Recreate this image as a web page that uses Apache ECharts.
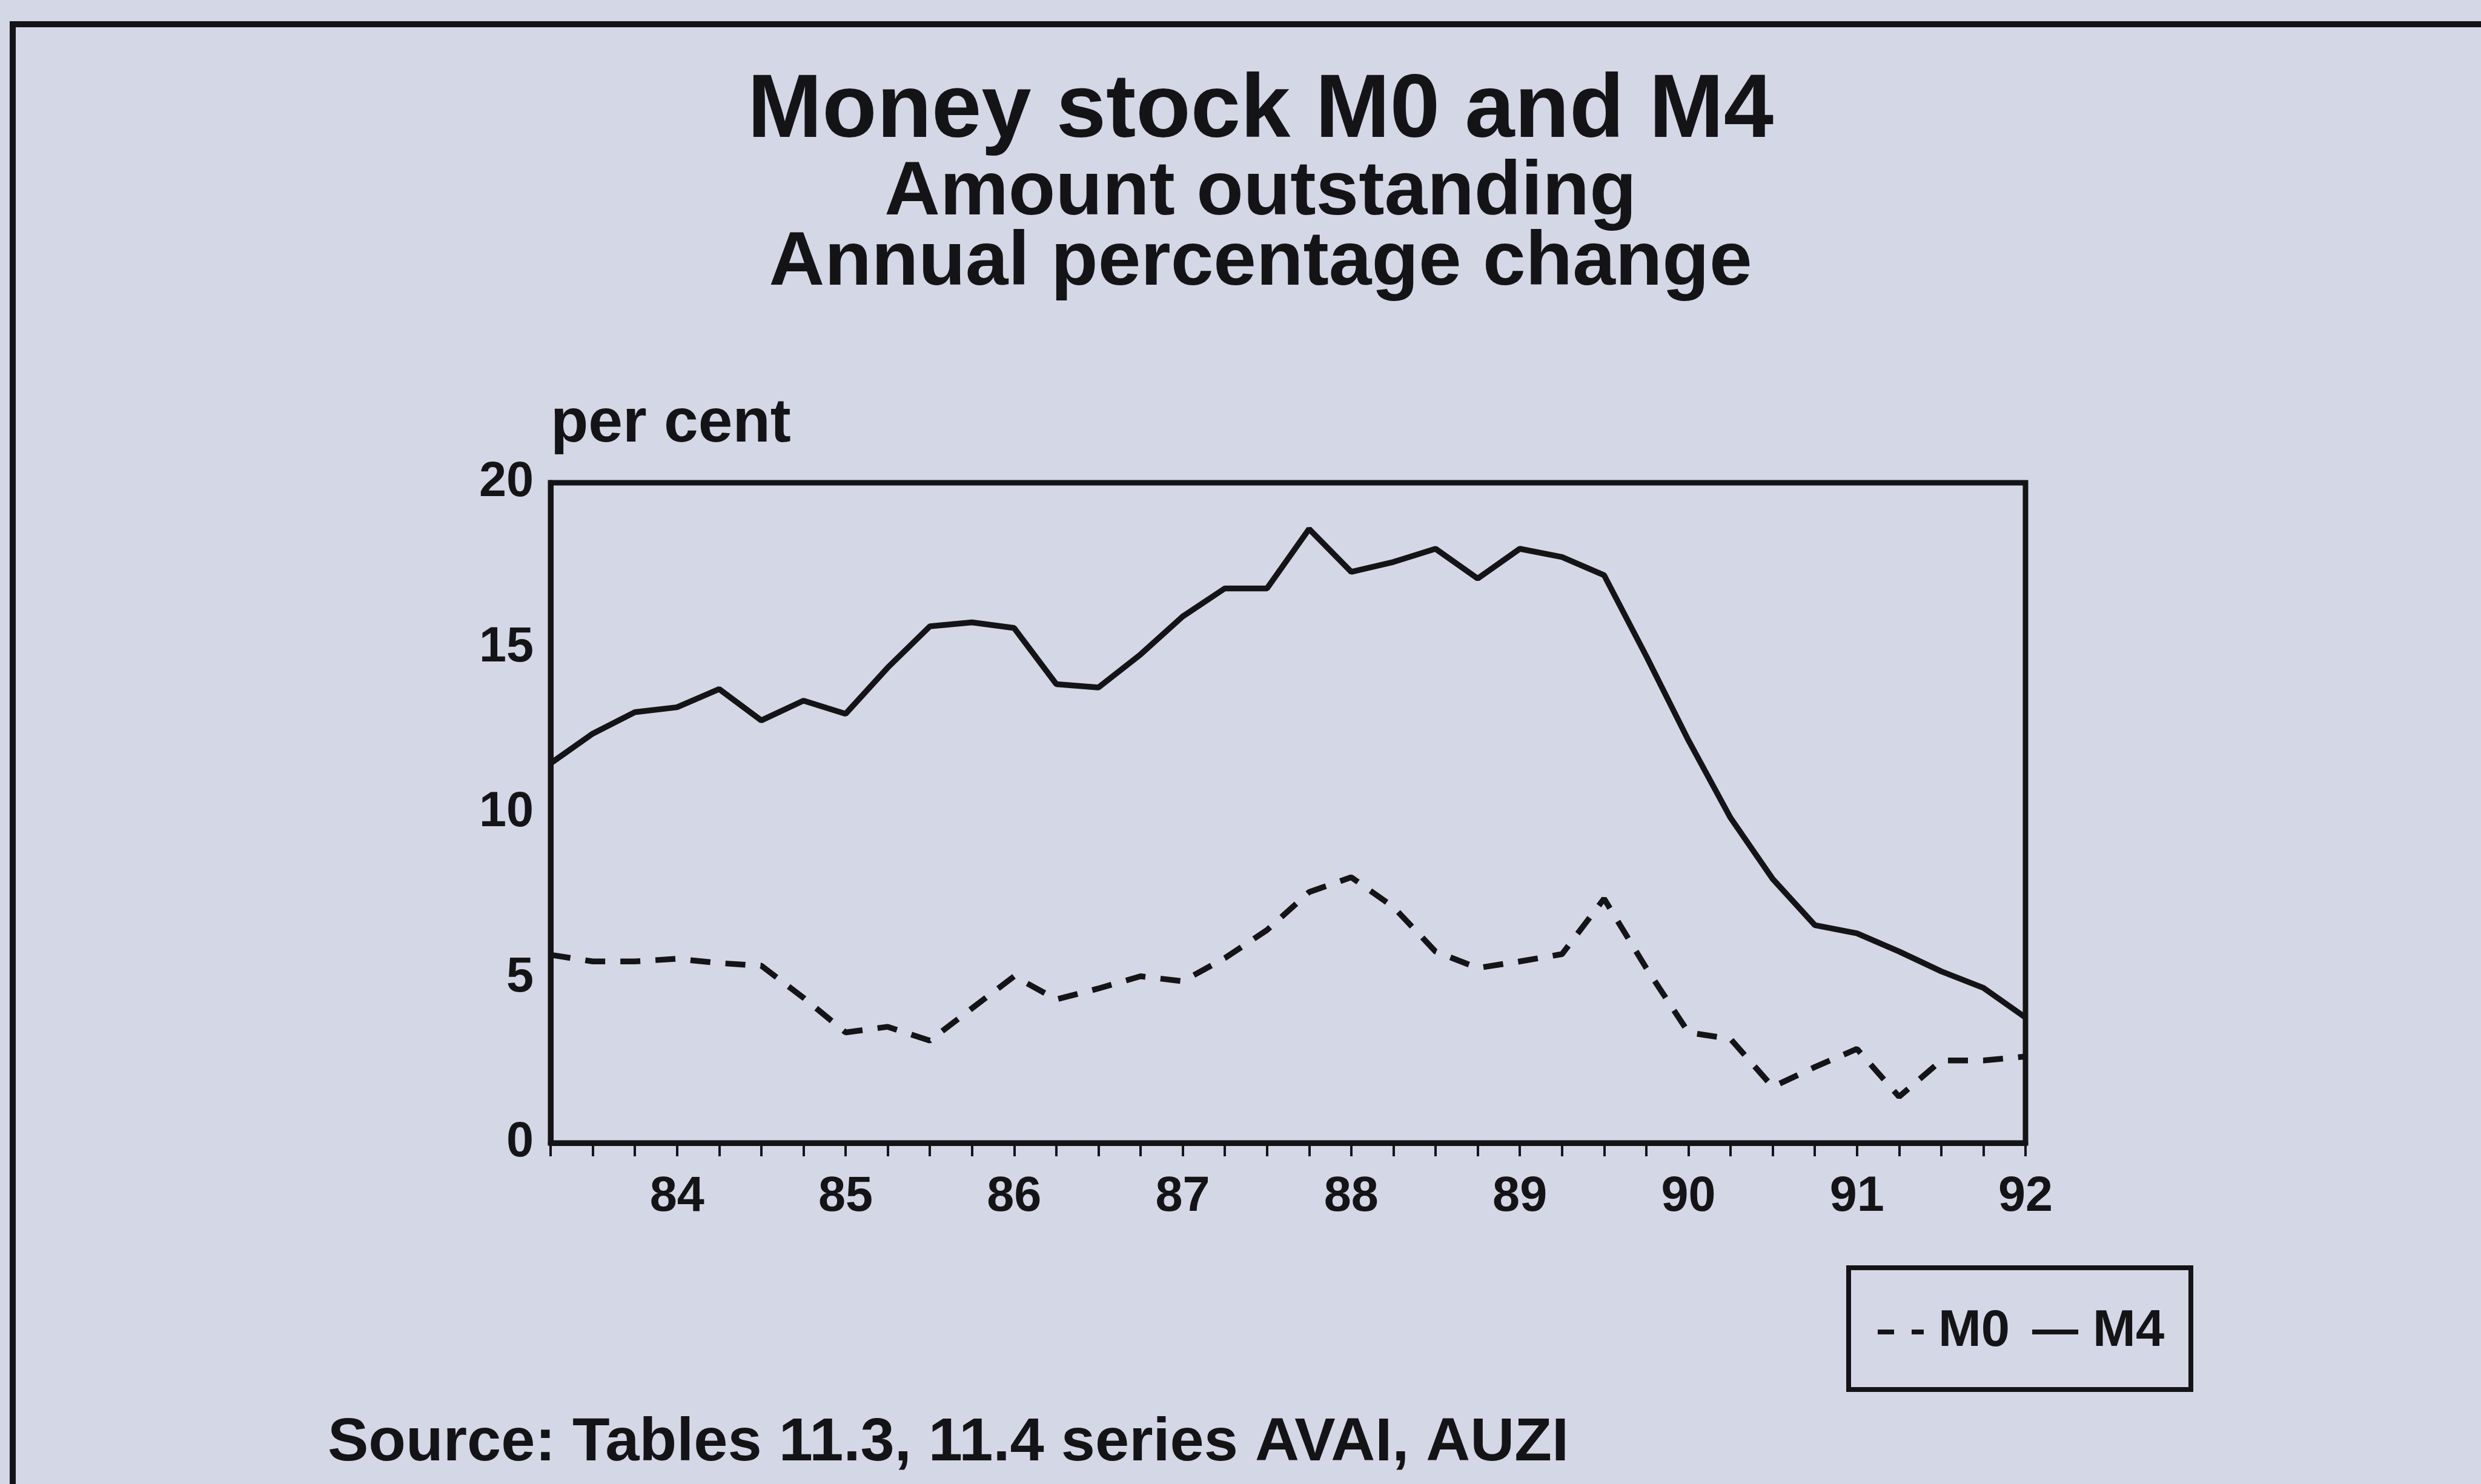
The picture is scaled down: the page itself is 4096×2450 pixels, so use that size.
<!DOCTYPE html>
<html>
<head>
<meta charset="utf-8">
<script src="https://cdn.jsdelivr.net/npm/echarts@6/dist/echarts.min.js"></script>
<style>
html,body{margin:0;padding:0;background:#d4d7e5;}
#c{width:4096px;height:2450px;}
</style>
</head>
<body>
<div id="c"></div>
<script>
// Quarterly observations, 1983 Q2 to 1992 Q1
const quarters = [
  '83 Q2','83 Q3','83 Q4',
  '84 Q1','84 Q2','84 Q3','84 Q4',
  '85 Q1','85 Q2','85 Q3','85 Q4',
  '86 Q1','86 Q2','86 Q3','86 Q4',
  '87 Q1','87 Q2','87 Q3','87 Q4',
  '88 Q1','88 Q2','88 Q3','88 Q4',
  '89 Q1','89 Q2','89 Q3','89 Q4',
  '90 Q1','90 Q2','90 Q3','90 Q4',
  '91 Q1','91 Q2','91 Q3','91 Q4',
  '92 Q1'
];
// M0 annual percentage change (dashed)
const m0 = [5.7, 5.5, 5.5, 5.58, 5.45, 5.37, 4.4, 3.35, 3.52, 3.1, 4.08, 5.05,
            4.35, 4.68, 5.05, 4.9, 5.6, 6.45, 7.6, 8.05, 7.15, 5.8, 5.3, 5.5,
            5.72, 7.4, 5.3, 3.35, 3.15, 1.7, 2.3, 2.85, 1.4, 2.5, 2.5, 2.62];
// M4 annual percentage change (solid)
const m4 = [11.5, 12.4, 13.05, 13.2, 13.75, 12.8, 13.4, 13.0, 14.4, 15.65, 15.77, 15.6,
            13.9, 13.8, 14.8, 15.95, 16.8, 16.8, 18.6, 17.3, 17.6, 18.0, 17.1, 18.0,
            17.75, 17.2, 14.75, 12.2, 9.85, 8.0, 6.6, 6.35, 5.8, 5.2, 4.7, 3.8];
const seriesNames = ['M0', 'M4'];
const yAxisRange = [0, 20, 5];
const titleLines = ['Money stock M0 and M4', 'Amount outstanding', 'Annual percentage change'];
const yAxisName = 'per cent';
const sourceNote = 'Source: Tables 11.3, 11.4 series AVAI, AUZI';

const INK = '#141417';
const FONT = '"Liberation Sans", Arial, Helvetica, sans-serif';

const chart = echarts.init(document.getElementById('c'), null, {renderer: 'canvas', width: 4096, height: 2450});

const titleStyle = (size) => ({fontFamily: FONT, fontWeight: 'bold', fontSize: size, lineHeight: size, color: INK});

const option = {
  backgroundColor: '#d4d7e5',
  animation: false,
  title: [
    {text: titleLines[0], left: 2081, top: 111, textAlign: 'center', padding: 0, textStyle: titleStyle(148)},
    {text: titleLines[1], left: 2081, top: 255, textAlign: 'center', padding: 0, textStyle: titleStyle(127)},
    {text: titleLines[2], left: 2081, top: 371, textAlign: 'center', padding: 0, textStyle: titleStyle(127)}
  ],
  grid: {
    left: 909, top: 797, width: 2435, height: 1090,
    show: true, borderColor: INK, borderWidth: 9, backgroundColor: 'transparent',
    containLabel: false
  },
  xAxis: {
    type: 'category',
    data: quarters,
    boundaryGap: false,
    axisLine: {show: true, lineStyle: {color: INK, width: 9}},
    axisTick: {show: true, interval: 0, length: 22, inside: false, lineStyle: {color: INK, width: 4}},
    axisLabel: {
      interval: (i, v) => v.endsWith('Q1'),
      formatter: (v) => v.slice(0, 2),
      margin: 49,
      fontFamily: FONT, fontWeight: 'bold', fontSize: 81, lineHeight: 81, color: INK
    },
    splitLine: {show: false}
  },
  yAxis: {
    type: 'value',
    min: yAxisRange[0], max: yAxisRange[1], interval: yAxisRange[2],
    name: yAxisName,
    nameLocation: 'end',
    nameGap: 96,
    nameTextStyle: {align: 'left', verticalAlign: 'middle', fontFamily: FONT, fontWeight: 'bold', fontSize: 102, lineHeight: 102, color: INK, padding: 0},
    axisLine: {show: true, lineStyle: {color: INK, width: 9}},
    axisTick: {show: false},
    splitLine: {show: false},
    axisLabel: {margin: 28, fontFamily: FONT, fontWeight: 'bold', fontSize: 81, lineHeight: 81, color: INK}
  },
  legend: {
    data: [
      {name: seriesNames[0], icon: 'path://M0,0L27,0L27,8L0,8Z M56,0L76,0L76,8L56,8Z'},
      {name: seriesNames[1], icon: 'path://M0,0L76,0L76,8L0,8Z'}
    ],
    left: 3100, top: 2156,
    orient: 'horizontal',
    padding: 0,
    itemGap: 37,
    itemWidth: 76,
    itemHeight: 8,
    selectedMode: false,
    itemStyle: {color: INK, borderWidth: 0},
    textStyle: {fontFamily: FONT, fontWeight: 'bold', fontSize: 85, lineHeight: 86, color: INK, padding: [0, 0, 0, 19]}
  },
  series: [
    {
      name: seriesNames[0], type: 'line', data: m0, symbol: 'none', smooth: false,
      lineStyle: {color: INK, width: 9.5, type: [33, 25]}, itemStyle: {color: INK}
    },
    {
      name: seriesNames[1], type: 'line', data: m4, symbol: 'none', smooth: false,
      lineStyle: {color: INK, width: 9.5, type: 'solid'}, itemStyle: {color: INK}
    }
  ],
  graphic: [
    {type: 'rect', silent: true, shape: {x: 21, y: 40, width: 4300, height: 3000},
     style: {fill: 'none', stroke: INK, lineWidth: 10}},
    {type: 'rect', silent: true, shape: {x: 3052, y: 2093, width: 565, height: 201},
     style: {fill: 'none', stroke: INK, lineWidth: 8}},
    {type: 'text', silent: true, x: 541, y: 2383,
     style: {text: sourceNote, font: 'bold 101px ' + FONT, fill: INK,
             textAlign: 'left', textVerticalAlign: 'middle', align: 'left', verticalAlign: 'middle'}}
  ]
};
chart.setOption(option);
</script>
</body>
</html>
